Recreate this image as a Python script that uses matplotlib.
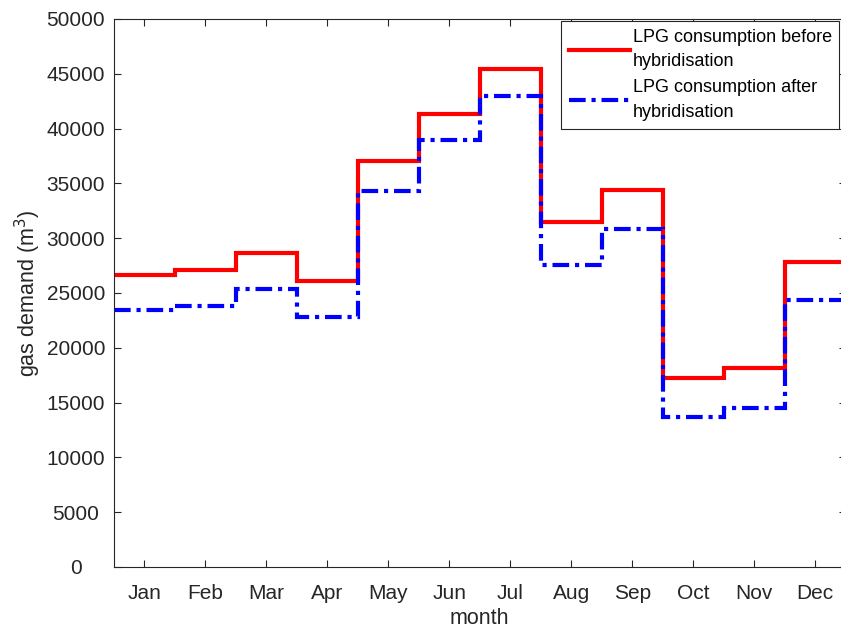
import numpy as np
import matplotlib
matplotlib.use("Agg")
import matplotlib.pyplot as plt

plt.rcParams['font.family'] = ['Liberation Sans', 'DejaVu Sans']

# monthly LPG demand (m^3)
months = ['Jan', 'Feb', 'Mar', 'Apr', 'May', 'Jun',
          'Jul', 'Aug', 'Sep', 'Oct', 'Nov', 'Dec']
before = [26600, 27100, 28650, 26050, 37050, 41350,
          45400, 31450, 34400, 17250, 18150, 27850]
after = [23450, 23800, 25400, 22800, 34350, 38950,
         43000, 27600, 30800, 13700, 14550, 24350]

grey = '#262626'

fig = plt.figure(figsize=(8.41, 6.28), dpi=100)
ax = fig.add_axes([114 / 841, 1 - 567 / 628, (845.5 - 114) / 841, (567 - 19) / 628])

edges = np.arange(len(months) + 1) + 0.5
ax.stairs(before, edges, baseline=None, color='#ff0000', lw=3,
          label='LPG consumption before\nhybridisation')
ax.stairs(after, edges, baseline=None, color='#0000ff', lw=3,
          linestyle=(0, (4, 1.4, 1, 1.4)),
          label='LPG consumption after\nhybridisation')

ax.set_xlim(0.5, 12.5)
ax.set_ylim(0, 50000)
ax.set_xticks(np.arange(1, 13))
ax.set_xticklabels(months)
ax.set_yticks(np.arange(0, 50001, 5000))
ax.tick_params(axis='both', which='both', direction='in', length=5,
               width=0.8, color=grey, labelcolor=grey, labelsize=15,
               top=True, right=True)
ax.tick_params(axis='x', pad=12)
ax.tick_params(axis='y', pad=27.4)
# matlab-style: y tick labels are centred in their column
for lab in ax.get_yticklabels():
    lab.set_horizontalalignment('center')
    lab.set_verticalalignment('center_baseline')
for sp in ax.spines.values():
    sp.set_color(grey)
    sp.set_linewidth(0.8)

ax.set_xlabel('month', fontsize=15.5, color=grey, labelpad=4)
ax.set_ylabel('gas demand (m$^3$)', fontsize=15.5, color=grey)
ax.yaxis.set_label_coords((43 - 114) / 731.5, 0.5)

leg = ax.legend(loc='upper left', bbox_to_anchor=(561 / 841, 1 - 21 / 628),
                bbox_transform=fig.transFigure, fontsize=13,
                handlelength=3.4, handletextpad=0.15, borderaxespad=0,
                borderpad=0.42, labelspacing=0.5, fancybox=False,
                framealpha=1, edgecolor=grey)
leg.get_frame().set_linewidth(0.8)
for t in leg.get_texts():
    t.set_linespacing(1.6)

fig.savefig('out.png', dpi=100)
